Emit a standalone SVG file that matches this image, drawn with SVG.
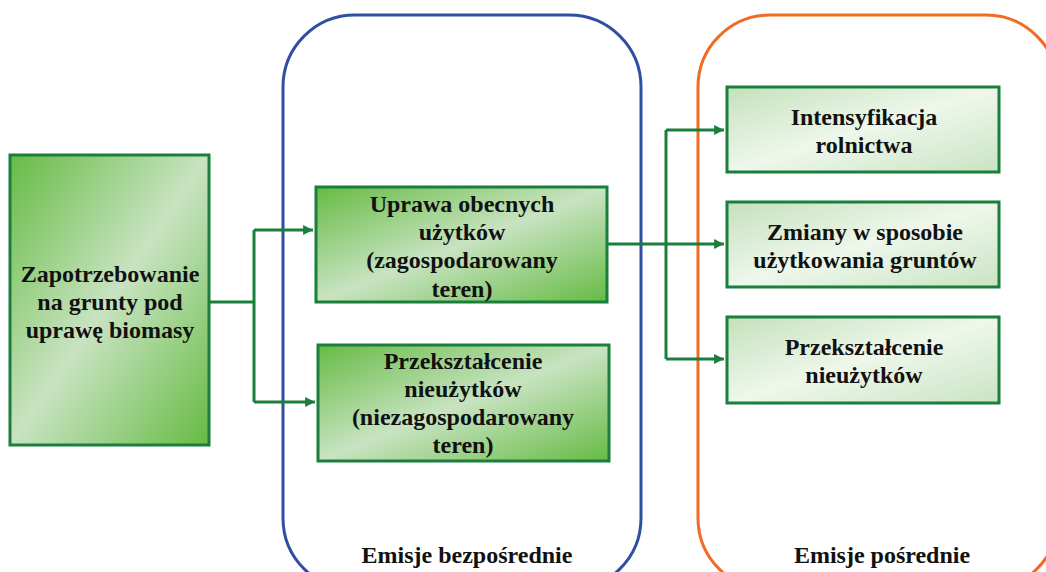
<svg xmlns="http://www.w3.org/2000/svg" width="1046" height="572" viewBox="0 0 1046 572">
<defs>
<linearGradient id="gDark" x1="0" y1="0" x2="1" y2="1">
<stop offset="0" stop-color="#66bb44"/>
<stop offset="0.5" stop-color="#c8e3c1"/>
<stop offset="1" stop-color="#66bb44"/>
</linearGradient>
<linearGradient id="gLight" x1="0" y1="0" x2="1" y2="1">
<stop offset="0" stop-color="#c4e1bb"/>
<stop offset="0.5" stop-color="#eef7eb"/>
<stop offset="1" stop-color="#c9e4c2"/>
</linearGradient>
<marker id="arr" viewBox="0 0 10 10" refX="10" refY="5" markerWidth="3.3" markerHeight="3.3" orient="auto" markerUnits="strokeWidth">
<path d="M0,0 L10,5 L0,10 z" fill="#1a7f3c"/>
</marker>
<style>
.box{stroke:#1a7f3c;stroke-width:3}
.dark{fill:url(#gDark)}
.light{fill:url(#gLight)}
text{font-family:'Liberation Serif','Times New Roman',serif;font-weight:bold;font-size:24px;fill:#111;text-anchor:middle}
.c{fill:none;stroke:#1a7f3c;stroke-width:3}
</style>
</defs>
<rect width="1046" height="572" fill="#ffffff"/>
<g id="direct">
<rect x="283" y="15" width="358" height="575" rx="72" ry="72" fill="none" stroke="#2f4fa2" stroke-width="3"/>
<text x="467" y="563" font-family="Liberation Serif">Emisje bezpośrednie</text>
</g>
<g id="indirect">
<rect x="698" y="15" width="360" height="575" rx="72" ry="72" fill="none" stroke="#f26b22" stroke-width="3"/>
<text x="882" y="563" font-family="Liberation Serif">Emisje pośrednie</text>
</g>
<g id="connectors">
<path class="c" d="M198,302 H254"/>
<path class="c" d="M254,402 V230"/>
<path class="c" d="M254,230 H313" marker-end="url(#arr)"/>
<path class="c" d="M254,402 H315" marker-end="url(#arr)"/>
<path class="c" d="M608,244 H724" marker-end="url(#arr)"/>
<path class="c" d="M666,359 V130"/>
<path class="c" d="M666,130 H724" marker-end="url(#arr)"/>
<path class="c" d="M666,359 H724" marker-end="url(#arr)"/>
</g>
<g id="demand">
<rect class="box dark" x="10" y="155" width="199" height="290"/>
<text x="110" y="282" font-family="Liberation Serif">Zapotrzebowanie</text>
<text x="110" y="310" font-family="Liberation Serif">na grunty pod</text>
<text x="110" y="338" font-family="Liberation Serif">uprawę biomasy</text>
</g>
<g id="current">
<rect class="box dark" x="316" y="187" width="291" height="115"/>
<text x="462" y="212" font-family="Liberation Serif">Uprawa obecnych</text>
<text x="462" y="240" font-family="Liberation Serif">użytków</text>
<text x="462" y="268" font-family="Liberation Serif">(zagospodarowany</text>
<text x="462" y="297" font-family="Liberation Serif">teren)</text>
</g>
<g id="wasteland">
<rect class="box dark" x="318" y="345" width="291" height="116"/>
<text x="463" y="369" font-family="Liberation Serif">Przekształcenie</text>
<text x="463" y="397" font-family="Liberation Serif">nieużytków</text>
<text x="463" y="425" font-family="Liberation Serif">(niezagospodarowany</text>
<text x="463" y="453" font-family="Liberation Serif">teren)</text>
</g>
<g id="intens">
<rect class="box light" x="727" y="87" width="272" height="85"/>
<text x="864" y="125" font-family="Liberation Serif">Intensyfikacja</text>
<text x="864" y="153" font-family="Liberation Serif">rolnictwa</text>
</g>
<g id="landuse">
<rect class="box light" x="727" y="202" width="272" height="85"/>
<text x="865" y="240" font-family="Liberation Serif">Zmiany w sposobie</text>
<text x="865" y="268" font-family="Liberation Serif">użytkowania gruntów</text>
</g>
<g id="wasteland2">
<rect class="box light" x="727" y="317" width="272" height="86"/>
<text x="864" y="355" font-family="Liberation Serif">Przekształcenie</text>
<text x="864" y="383" font-family="Liberation Serif">nieużytków</text>
</g>
</svg>
